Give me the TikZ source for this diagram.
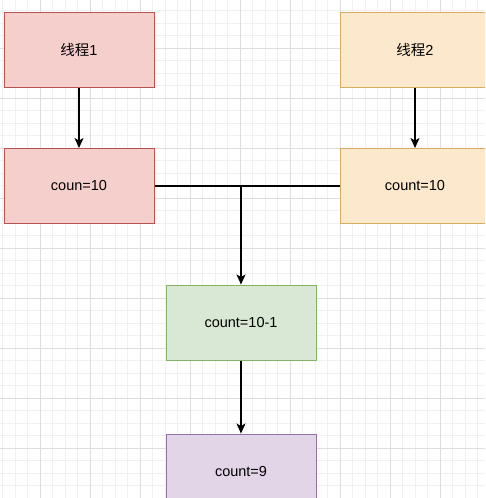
\documentclass[tikz,border=0pt]{standalone}
\usepackage{fontspec}
\setmainfont{Liberation Sans}
\newfontfamily\cjk{Noto Sans CJK SC}
\usetikzlibrary{arrows.meta}
\definecolor{redfill}{HTML}{F4CFCC}
\definecolor{redline}{HTML}{B85450}
\definecolor{orangefill}{HTML}{FCE8CC}
\definecolor{orangeline}{HTML}{D6AE5E}
\definecolor{greenfill}{HTML}{D8E8D4}
\definecolor{greenline}{HTML}{82B366}
\definecolor{purplefill}{HTML}{E1D5E7}
\definecolor{purpleline}{HTML}{9673A6}
\begin{document}
\begin{tikzpicture}[
    x=1pt, y=-1pt,
    font=\fontsize{14.5}{17}\selectfont,
    box/.style={draw, line width=1pt, minimum width=150pt, minimum height=75pt, inner sep=0pt},
    arr/.style={-{Stealth[length=10pt,width=9pt,inset=2.5pt]}, line width=1.1pt},
    link/.style={line width=1.1pt},
  ]
  \clip (0,0) rectangle (485,498);
  \fill[white] (0,0) rectangle (485,498);
  % 背景の方眼
  \foreach \x in {2.5,15,...,485} \draw[black!6, line width=0.6pt] (\x,0) -- (\x,498);
  \foreach \y in {10.5,23,...,498} \draw[black!6, line width=0.6pt] (0,\y) -- (485,\y);
  \foreach \x in {40,90,...,485} \draw[black!13, line width=0.8pt] (\x,0) -- (\x,498);
  \foreach \y in {48,98,...,498} \draw[black!13, line width=0.8pt] (0,\y) -- (485,\y);
  % 上: 二つのスレッドがそれぞれ値を読む
  \node[box, fill=redfill, draw=redline] (t1) at (79,49.5) {{\cjk 线程}1};
  \node[box, fill=redfill, draw=redline] (c1) at (79,186) {coun=10};
  \node[box, fill=orangefill, draw=orangeline] (t2) at (415,49.5) {{\cjk 线程}2};
  \node[box, fill=orangefill, draw=orangeline] (c2) at (415,186) {count=10};
  % 下: 合流して減算
  \node[box, fill=greenfill, draw=greenline] (sub) at (241,322.5) {count=10-1};
  \node[box, fill=purplefill, draw=purpleline] (res) at (241,471.5) {count=9};
  \draw[arr] (t1) -- (c1);
  \draw[arr] (t2) -- (c2);
  \draw[link] (c1.east) -- (c2.west);
  \coordinate (join) at (sub.north |- c1.east);
  \draw[arr] (join) -- (sub.north);
  \draw[arr] (sub) -- (res);
\end{tikzpicture}
\end{document}
